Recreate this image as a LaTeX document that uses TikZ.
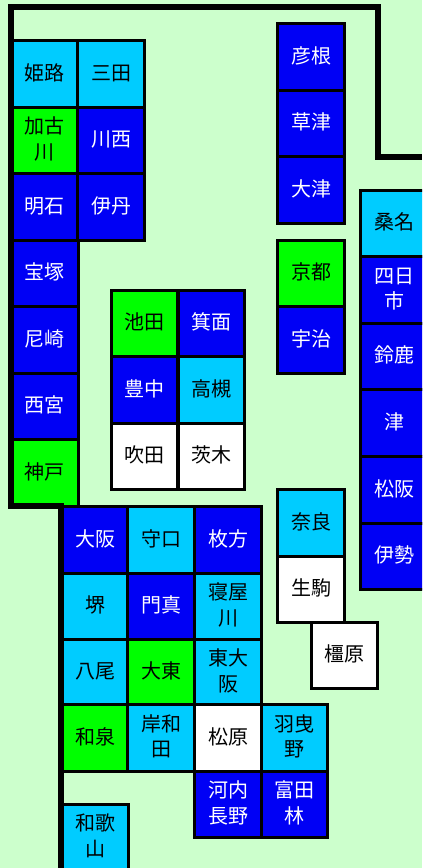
\documentclass[tikz,border=0pt]{standalone}
\usepackage{fontspec}
\setmainfont{Noto Sans CJK JP}
\definecolor{bgc}{HTML}{CCFFCC}
\definecolor{cy}{HTML}{00CCFF}
\definecolor{bl}{HTML}{0000F5}
\definecolor{gr}{HTML}{00FF00}
\newcommand\lab[1]{\raisebox{0pt}[\dimexpr\height+1.5pt\relax][\depth]{\begin{tabular}{@{}c@{}}#1\end{tabular}}}
\tikzset{
  cellbox/.style={draw=black,line width=2.25pt,rectangle,inner sep=0pt,minimum width=49.9pt,minimum height=49.9pt,font=\fontsize{15pt}{18.8pt}\selectfont},
  cyan cell/.style={cellbox,fill=cy,text=black},
  blue cell/.style={cellbox,fill=bl,text=white},
  green cell/.style={cellbox,fill=gr,text=black},
  white cell/.style={cellbox,fill=white,text=black},
  wall/.style={draw=black,line width=4.4pt,line cap=butt,line join=miter}
}
\begin{document}
\begin{tikzpicture}[x=0.75pt,y=-0.75pt]
\fill[bgc] (0,0) rectangle (422,868);
\useasboundingbox (0,0) rectangle (422,868);
\clip (0,0) rectangle (422,868);
% left block
\node[cyan cell] (himeji) at (45,74) {\lab{姫路}};
\node[cyan cell] (sanda) at (111,74) {\lab{三田}};
\node[green cell] (kakogawa) at (45,140.5) {\lab{加古\\川}};
\node[blue cell] (kawanishi) at (111,140.5) {\lab{川西}};
\node[blue cell] (akashi) at (45,207) {\lab{明石}};
\node[blue cell] (itami) at (111,207) {\lab{伊丹}};
\node[blue cell] (takarazuka) at (45,273.5) {\lab{宝塚}};
\node[blue cell] (amagasaki) at (45,340) {\lab{尼崎}};
\node[blue cell] (nishinomiya) at (45,406.5) {\lab{西宮}};
\node[green cell] (kobe) at (45,473) {\lab{神戸}};
% middle block
\node[green cell] (ikeda) at (144.5,323.5) {\lab{池田}};
\node[blue cell] (mino) at (211.5,323.5) {\lab{箕面}};
\node[blue cell] (toyonaka) at (144.5,390) {\lab{豊中}};
\node[cyan cell] (takatsuki) at (211.5,390) {\lab{高槻}};
\node[white cell] (suita) at (144.5,456.5) {\lab{吹田}};
\node[white cell] (ibaraki) at (211.5,456.5) {\lab{茨木}};
% Osaka block
\node[blue cell] (osaka) at (95,540) {\lab{大阪}};
\node[cyan cell] (moriguchi) at (161,540) {\lab{守口}};
\node[blue cell] (hirakata) at (228,540) {\lab{枚方}};
\node[cyan cell] (sakai) at (95,606.5) {\lab{堺}};
\node[blue cell] (kadoma) at (161,606.5) {\lab{門真}};
\node[cyan cell] (neyagawa) at (228,606.5) {\lab{寝屋\\川}};
\node[cyan cell] (yao) at (95,672.5) {\lab{八尾}};
\node[green cell] (daito) at (161,672.5) {\lab{大東}};
\node[cyan cell] (higashiosaka) at (228,672.5) {\lab{東大\\阪}};
\node[green cell] (izumi) at (95,738) {\lab{和泉}};
\node[cyan cell] (kishiwada) at (161,738) {\lab{岸和\\田}};
\node[white cell] (matsubara) at (228,738) {\lab{松原}};
\node[cyan cell] (habikino) at (294.5,738) {\lab{羽曳\\野}};
\node[blue cell] (kawachinagano) at (228,804.5) {\lab{河内\\長野}};
\node[blue cell] (tondabayashi) at (294.5,804.5) {\lab{富田\\林}};
\node[cyan cell] (wakayama) at (95,837.5) {\lab{和歌\\山}};
% Shiga, Kyoto, Nara
\node[blue cell] (hikone) at (311,57) {\lab{彦根}};
\node[blue cell] (kusatsu) at (311,123.5) {\lab{草津}};
\node[blue cell] (otsu) at (311,190) {\lab{大津}};
\node[green cell] (kyoto) at (311,273.5) {\lab{京都}};
\node[blue cell] (uji) at (311,340) {\lab{宇治}};
\node[cyan cell] (nara) at (311,523) {\lab{奈良}};
\node[white cell] (ikoma) at (311,589.5) {\lab{生駒}};
\node[white cell] (kashihara) at (344.5,655.5) {\lab{橿原}};
% Mie
\node[cyan cell] (kuwana) at (394,223.5) {\lab{桑名}};
\node[blue cell] (yokkaichi) at (394,290) {\lab{四日\\市}};
\node[blue cell] (suzuka) at (394,356.5) {\lab{鈴鹿}};
\node[blue cell] (tsu) at (394,423) {\lab{津}};
\node[blue cell] (matsusaka) at (394,490) {\lab{松阪}};
\node[blue cell] (ise) at (394,556.5) {\lab{伊勢}};
% thick walls
\coordinate (w1) at (11,506);
\coordinate (w2) at (11,7);
\coordinate (w3) at (378,7);
\coordinate (w4) at (378,157);
\coordinate (w5) at (422,157);
\coordinate (w6) at (61,506);
\coordinate (w7) at (61,868);
\draw[wall] (w7) -- (w6) -- (w1) -- (w2) -- (w3) -- (w4) -- (w5);
\end{tikzpicture}
\end{document}
